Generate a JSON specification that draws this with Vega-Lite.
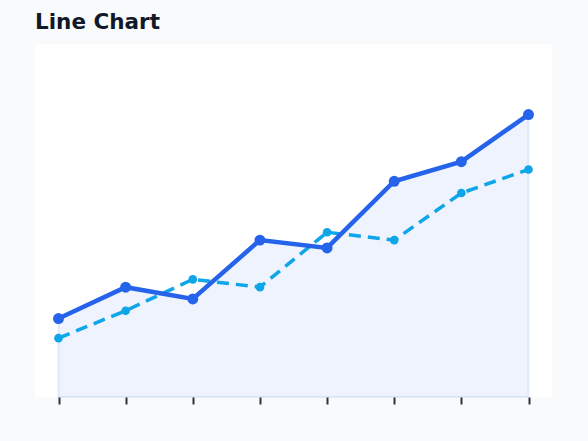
{
  "$schema": "https://vega.github.io/schema/vega-lite/v6.json",
  "width": 517,
  "height": 353,
  "autosize": {"type": "none"},
  "padding": {"left": 35, "top": 44, "right": 36, "bottom": 44},
  "background": "#f8fafc",
  "title": {"text": "Line Chart", "anchor": "start", "frame": "group", "font": "DejaVu Sans", "fontSize": 21.5, "fontWeight": "bold", "color": "#111827", "offset": 11},
  "config": {"view": {"fill": "white", "stroke": null}},
  "data": {"values": [
    {"x": "1", "series": "A", "value": 20},
    {"x": "2", "series": "A", "value": 28},
    {"x": "3", "series": "A", "value": 25},
    {"x": "4", "series": "A", "value": 40},
    {"x": "5", "series": "A", "value": 38},
    {"x": "6", "series": "A", "value": 55},
    {"x": "7", "series": "A", "value": 60},
    {"x": "8", "series": "A", "value": 72},
    {"x": "1", "series": "B", "value": 15},
    {"x": "2", "series": "B", "value": 22},
    {"x": "3", "series": "B", "value": 30},
    {"x": "4", "series": "B", "value": 28},
    {"x": "5", "series": "B", "value": 42},
    {"x": "6", "series": "B", "value": 40},
    {"x": "7", "series": "B", "value": 52},
    {"x": "8", "series": "B", "value": 58}
  ]},
  "encoding": {
    "x": {"field": "x", "type": "ordinal", "scale": {"type": "point", "padding": 0.35},
      "axis": {"title": null, "labels": false, "domain": false, "ticks": true, "tickSize": 7, "tickWidth": 2, "tickColor": "#333333", "grid": false}},
    "y": {"field": "value", "type": "quantitative", "scale": {"domain": [0, 90], "nice": false}, "axis": null}
  },
  "layer": [
    {"transform": [{"filter": "datum.series === 'A'"}],
     "mark": {"type": "area", "color": "#2563eb", "fillOpacity": 0.08, "stroke": "#2563eb", "strokeOpacity": 0.1, "strokeWidth": 2}},
    {"transform": [{"filter": "datum.series === 'B'"}],
     "mark": {"type": "line", "color": "#0ea5e9", "strokeWidth": 3.5, "strokeDash": [12, 7]}},
    {"transform": [{"filter": "datum.series === 'B'"}],
     "mark": {"type": "point", "filled": true, "opacity": 1, "color": "#0ea5e9", "size": 75}},
    {"transform": [{"filter": "datum.series === 'A'"}],
     "mark": {"type": "line", "color": "#2563eb", "strokeWidth": 4.5}},
    {"transform": [{"filter": "datum.series === 'A'"}],
     "mark": {"type": "point", "filled": true, "opacity": 1, "color": "#2563eb", "size": 120}}
  ]
}
